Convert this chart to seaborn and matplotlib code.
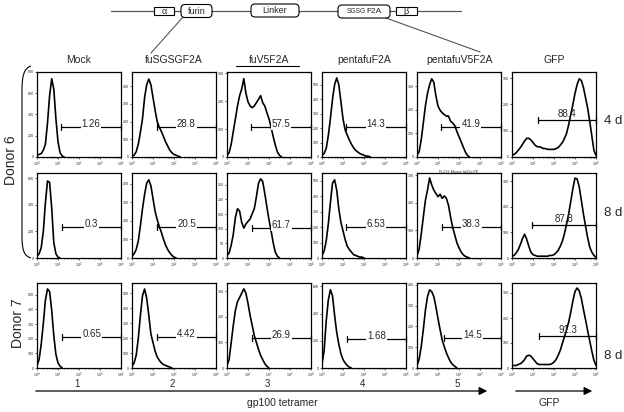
import numpy as np
import pandas as pd
import matplotlib
matplotlib.use("Agg")
import matplotlib.pyplot as plt
import seaborn as sns
from matplotlib.patches import FancyBboxPatch, Rectangle, PathPatch
from matplotlib.path import Path
from matplotlib.ticker import MultipleLocator

sns.set_style("white")
plt.rcParams['font.family'] = ['Liberation Sans', 'DejaVu Sans']

W, H = 624, 412

# histogram bin centres, log10 of fluorescence (10^0 .. 10^4)
log_bins = [0.0, 0.1, 0.2, 0.3, 0.4, 0.5, 0.6, 0.7, 0.8, 0.9,
            1.0, 1.1, 1.2, 1.3, 1.4, 1.5, 1.6, 1.7, 1.8, 1.9,
            2.0, 2.1, 2.2, 2.3, 2.4, 2.5, 2.6, 2.7, 2.8, 2.9,
            3.0, 3.1, 3.2, 3.3, 3.4, 3.5, 3.6, 3.7, 3.8, 3.9, 4.0]

constructs = ["Mock", "fuSGSGF2A", "fuV5F2A", "pentafuF2A", "pentafuV5F2A", "GFP"]
row_labels = ["4 d", "8 d", "8 d"]

# ---- Donor 6, day 4 (counts per bin)
d6_4d_mock = [16, 24, 32, 64, 120, 320, 576, 736, 640, 360, 144, 40, 8, 0]
d6_4d_fusgsg = [5, 10, 30, 72, 140, 216, 336, 408, 440, 408, 336, 264, 200, 168, 144, 115,
                86, 62, 38, 24, 14, 10, 5, 0]
d6_4d_fuv5 = [6, 15, 46, 92, 137, 183, 220, 244, 281, 229, 198, 183, 177, 183, 195, 207,
              220, 195, 183, 159, 137, 107, 73, 43, 18, 6, 0]
d6_4d_penta = [12, 24, 59, 148, 266, 401, 502, 549, 502, 384, 266, 189, 153, 118, 89, 65,
               47, 35, 24, 18, 12, 6, 6, 0]
d6_4d_pentav5 = [7, 22, 72, 144, 216, 270, 306, 331, 317, 259, 216, 198, 187, 180, 173, 173,
                 151, 144, 133, 108, 86, 65, 43, 22, 7, 0]
d6_4d_gfp = [6, 10, 16, 26, 36, 48, 61, 71, 71, 65, 55, 45, 39, 39, 36, 32, 32, 29, 29, 29,
             29, 32, 36, 45, 55, 71, 90, 123, 162, 200, 242, 275, 297, 291, 265, 226, 187,
             136, 81, 26, 6]

# ---- Donor 6, day 8
d6_8d_mock = [13, 32, 77, 198, 416, 580, 570, 378, 115, 32, 6, 0]
d6_8d_fusgsg = [9, 23, 46, 92, 174, 266, 344, 404, 422, 390, 321, 252, 207, 170, 138, 101,
                69, 46, 28, 14, 5, 0]
d6_8d_fuv5 = [9, 17, 44, 81, 139, 168, 160, 122, 102, 116, 125, 133, 151, 168, 209, 255,
              270, 261, 220, 174, 130, 93, 52, 20, 6, 0]
d6_8d_penta = [17, 44, 110, 220, 358, 484, 506, 440, 319, 231, 176, 121, 77, 55, 39, 22,
               17, 11, 6, 6, 0]
d6_8d_pentav5 = [9, 31, 86, 148, 209, 246, 290, 265, 246, 234, 222, 231, 216, 225, 216, 191,
                 148, 111, 83, 55, 37, 22, 12, 6, 3, 0]
d6_8d_gfp = [7, 10, 20, 33, 53, 76, 93, 73, 46, 23, 13, 10, 7, 7, 7, 7, 7, 7, 10, 10, 13,
             20, 30, 46, 66, 96, 133, 173, 222, 272, 312, 309, 279, 226, 173, 126, 80, 43,
             23, 10, 3]

# ---- Donor 7, day 8
d7_8d_mock = [17, 58, 162, 302, 464, 539, 522, 394, 220, 93, 35, 12, 0]
d7_8d_fusgsg = [11, 34, 85, 198, 352, 482, 527, 465, 352, 227, 170, 113, 74, 51, 34, 23,
                17, 11, 6, 0]
d7_8d_fuv5 = [10, 33, 100, 167, 226, 260, 276, 293, 310, 293, 253, 206, 167, 127, 100, 73,
              50, 33, 17, 7, 0]
d7_8d_penta = [31, 125, 343, 499, 574, 530, 387, 262, 175, 106, 62, 37, 19, 6, 0]
d7_8d_pentav5 = [12, 41, 102, 184, 277, 343, 375, 367, 343, 294, 237, 184, 135, 102, 73, 49,
                 29, 16, 8, 0]
d7_8d_gfp = [10, 10, 10, 14, 17, 24, 34, 48, 51, 48, 37, 27, 17, 14, 14, 14, 14, 14, 14, 17,
             24, 34, 51, 71, 99, 126, 153, 184, 224, 269, 306, 320, 309, 279, 235, 194, 150,
             109, 68, 31, 10]

histos = [[d6_4d_mock, d6_4d_fusgsg, d6_4d_fuv5, d6_4d_penta, d6_4d_pentav5, d6_4d_gfp],
          [d6_8d_mock, d6_8d_fusgsg, d6_8d_fuv5, d6_8d_penta, d6_8d_pentav5, d6_8d_gfp],
          [d7_8d_mock, d7_8d_fusgsg, d7_8d_fuv5, d7_8d_penta, d7_8d_pentav5, d7_8d_gfp]]

# gate start (log10) and % positive
gate_start = [[1.14, 1.17, 1.14, 1.13, 1.12, 1.25],
              [1.17, 1.20, 1.17, 1.15, 1.17, 0.93],
              [1.20, 1.20, 1.17, 1.21, 1.27, 1.28]]
gate_pct = [["1.26", "28.8", "57.5", "14.3", "41.9", "88.4"],
            ["0.3", "20.5", "61.7", "6.53", "38.3", "87.8"],
            ["0.65", "4.42", "26.9", "1.68", "14.5", "91.3"]]

# axis scaling (style)
y_max = [[800, 480, 305, 590, 360, 323],
         [640, 459, 290, 550, 308, 332],
         [580, 567, 333, 624, 408, 340]]
y_step = [[200, 100, 100, 100, 100, 100],
          [200, 100, 50, 100, 100, 100],
          [100, 100, 100, 200, 100, 100]]
gate_y = [[0.35, 0.35, 0.35, 0.35, 0.35, 0.44],
          [0.36, 0.36, 0.35, 0.36, 0.37, 0.39],
          [0.36, 0.36, 0.35, 0.34, 0.35, 0.38]]

col_left = [37, 132, 227, 322, 417, 512]
row_top = [72, 173, 283]
pw, ph = 84, 85

fig = plt.figure(figsize=(W / 100, H / 100), dpi=100)

for r in range(3):
    for c in range(6):
        ax = fig.add_axes([col_left[c] / W, 1 - (row_top[r] + ph) / H, pw / W, ph / H])
        y = histos[r][c]
        x = [10 ** b for b in log_bins[:len(y)]]
        sns.lineplot(x=x, y=y, ax=ax, color="black", lw=1.2, estimator=None)
        ax.set_xscale("log")
        ax.set_xlim(1, 1e4)
        ax.set_ylim(0, y_max[r][c])
        ax.yaxis.set_major_locator(MultipleLocator(y_step[r][c]))
        ax.tick_params(which="major", labelsize=2.6, length=1.6, width=0.5, pad=0.6,
                       bottom=True, left=True)
        ax.tick_params(which="minor", length=0.9, width=0.4, bottom=True)
        for s in ax.spines.values():
            s.set_linewidth(0.9)
            s.set_color("black")
        ax.set_xlabel("")
        ax.set_ylabel("")

        # gate bar
        tr = ax.get_xaxis_transform()
        g0 = 10 ** gate_start[r][c]
        gy = gate_y[r][c]
        ax.plot([g0, 1e4], [gy, gy], color="black", lw=0.9, transform=tr, clip_on=False)
        for gx in (g0, 1e4):
            ax.plot([gx, gx], [gy - 0.035, gy + 0.035], color="black", lw=0.9,
                    transform=tr, clip_on=False)
        xm = 10 ** ((gate_start[r][c] + 4) / 2)
        if c == 5:
            ax.text(xm, gy + 0.01, gate_pct[r][c], fontsize=7, ha="center", va="bottom",
                    transform=tr)
        else:
            ax.text(xm, gy, gate_pct[r][c], fontsize=7, ha="center", va="baseline",
                    transform=tr, bbox=dict(fc="white", ec="none", pad=0.6))
        if r == 0 and c == 4:
            ax.set_xlabel("FL2-H: Mouse IgG2a PE", fontsize=2.6, labelpad=0.5)

# overlay in pixel coordinates for annotations
ov = fig.add_axes([0, 0, 1, 1])
ov.set_xlim(0, W)
ov.set_ylim(H, 0)
ov.axis("off")
ov.patch.set_alpha(0)

# construct schematic
ov.plot([111, 461], [11, 11], color="#555555", lw=0.9, zorder=1)
ov.plot([183, 151], [17, 53], color="#555555", lw=0.8, zorder=1)
ov.plot([386, 480], [18, 52], color="#555555", lw=0.8, zorder=1)
ov.add_patch(Rectangle((154, 7), 20, 8, fc="white", ec="black", lw=0.8, zorder=2))
ov.text(164, 11.5, "α", fontsize=6.5, ha="center", va="center", zorder=3)
ov.add_patch(FancyBboxPatch((181, 4.5), 31, 13, boxstyle="round,pad=0,rounding_size=4",
                            fc="white", ec="black", lw=0.8, zorder=2))
ov.text(196.5, 11, "furin", fontsize=6.5, ha="center", va="center", zorder=3)
ov.add_patch(FancyBboxPatch((251, 4), 48, 13, boxstyle="round,pad=0,rounding_size=4",
                            fc="white", ec="black", lw=0.8, zorder=2))
ov.text(275, 10.5, "Linker", fontsize=6.5, ha="center", va="center", zorder=3)
ov.add_patch(FancyBboxPatch((338, 5), 52, 13, boxstyle="round,pad=0,rounding_size=4",
                            fc="white", ec="black", lw=0.8, zorder=2))
ov.text(366, 11.5, "SGSG", fontsize=4.8, ha="right", va="center", zorder=3)
ov.text(366, 11.5, "F2A", fontsize=6, ha="left", va="center", zorder=3)
ov.add_patch(Rectangle((396, 7), 21, 8, fc="white", ec="black", lw=0.8, zorder=2))
ov.text(406.5, 11.5, "β", fontsize=6.5, ha="center", va="center", zorder=3)

# column titles
for c, name in enumerate(constructs):
    ov.text(col_left[c] + pw / 2, 60, name, fontsize=7.5, ha="center", va="center")
ov.plot([236, 299], [65.5, 65.5], color="black", lw=0.8)

# row labels
for r, lab in enumerate(row_labels):
    yy = [121, 213, 356][r]
    ov.text(613, yy, lab, fontsize=9.5, ha="center", va="center")

# donor labels and bracket
ov.text(11, 160, "Donor 6", fontsize=10, rotation=90, ha="center", va="center")
ov.text(18, 323, "Donor 7", fontsize=10, rotation=90, ha="center", va="center")
verts = [(31, 66), (24, 68), (22, 76), (22, 90), (22, 236), (22, 250), (24, 256), (31, 258)]
codes = [Path.MOVETO, Path.CURVE4, Path.CURVE4, Path.CURVE4, Path.LINETO,
         Path.CURVE4, Path.CURVE4, Path.CURVE4]
ov.add_patch(PathPatch(Path(verts, codes), fc="none", ec="black", lw=0.8))

# sample numbers and axis arrows
for c in range(5):
    ov.text(col_left[c] + pw / 2 - 2, 384, str(c + 1), fontsize=7, ha="center",
            va="center")
ov.annotate("", xy=(490, 391), xytext=(33, 391),
            arrowprops=dict(arrowstyle="-|>", lw=0.9, color="black", mutation_scale=12))
ov.annotate("", xy=(595, 391), xytext=(513, 391),
            arrowprops=dict(arrowstyle="-|>", lw=0.9, color="black", mutation_scale=12))
ov.text(282, 403, "gp100 tetramer", fontsize=7.5, ha="center", va="center")
ov.text(549, 403, "GFP", fontsize=7.5, ha="center", va="center")

fig.savefig("out.png", dpi=100)
